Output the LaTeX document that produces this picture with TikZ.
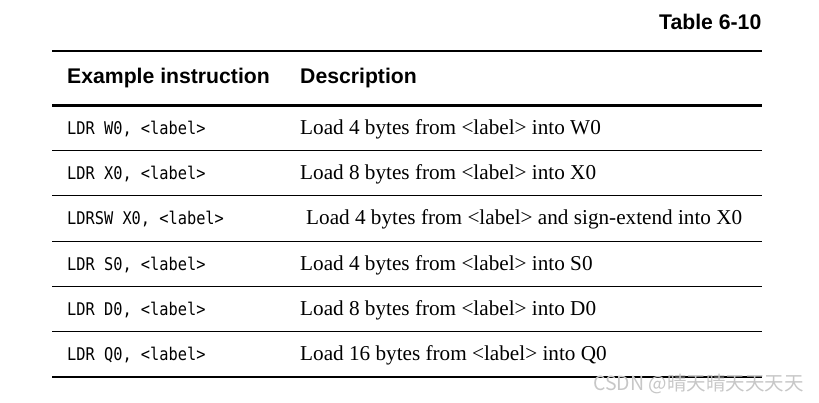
\documentclass[tikz,border=0pt]{standalone}
\usepackage{fontspec}
\setmainfont{Liberation Serif}
\setsansfont{Liberation Sans}
\setmonofont[FakeStretch=0.875]{DejaVu Sans Mono}
\newfontfamily\cjk{Noto Sans CJK SC}

\begin{document}
\begin{tikzpicture}[x=1pt, y=-1pt,
        head/.style={anchor=base west, inner sep=0pt,
            font=\sffamily\bfseries\fontsize{21.2}{24}\selectfont},
        instr/.style={anchor=base west, inner sep=0pt,
            font=\ttfamily\fontsize{17.5}{20}\selectfont},
        desc/.style={anchor=base west, inner sep=0pt,
            font=\fontsize{21.2}{24}\selectfont},
        thickrule/.style={line width=2.4pt},
        thinrule/.style={line width=1.2pt}]
        \useasboundingbox (0,0) rectangle (819,402);
        \def\tabrule[#1](#2,#3){\draw[#1] (52,#2) coordinate(#3-l) -- (762,#2) coordinate(#3-r);}

        \node[head, anchor=base east] (title) at (761.5,29.3) {Table 6-10};

        % rules
        \tabrule[thickrule](51,top)
        \tabrule[thickrule](105.3,mid)
        \tabrule[thinrule](150.7,r1)
        \tabrule[thinrule](195.3,r2)
        \tabrule[thinrule](241.5,r3)
        \tabrule[thinrule](286.5,r4)
        \tabrule[thinrule](331.3,r5)
        \tabrule[thickrule](377,bot)

        % header
        \node[head] (hins) at (67,83.5) {Example instruction};
        \node[head] (hdesc) at (300,83.5) {Description};

        % rows
        \node[instr] (i1) at (67,134.5) {LDR W0, <label>};
        \node[desc] (d1) at (300,134.5) {Load 4 bytes from <label> into W0};
        \node[instr] (i2) at (67,179.5) {LDR X0, <label>};
        \node[desc] (d2) at (300,179.5) {Load 8 bytes from <label> into X0};
        \node[instr] (i3) at (67,224.5) {LDRSW X0, <label>};
        \node[desc] (d3) at (306,224.5) {Load 4 bytes from <label> and sign-extend into X0};
        \node[instr] (i4) at (67,270) {LDR S0, <label>};
        \node[desc] (d4) at (300,270) {Load 4 bytes from <label> into S0};
        \node[instr] (i5) at (67,315) {LDR D0, <label>};
        \node[desc] (d5) at (300,315) {Load 8 bytes from <label> into D0};
        \node[instr] (i6) at (67,360) {LDR Q0, <label>};
        \node[desc] (d6) at (300,360) {Load 16 bytes from <label> into Q0};

        \node[anchor=base west, inner sep=0pt, text=black!22,
            font=\cjk\fontsize{19.5}{21}\selectfont] (mark) at (593,390.7) {CSDN @晴天晴天天天天};
    \end{tikzpicture}
\end{document}
